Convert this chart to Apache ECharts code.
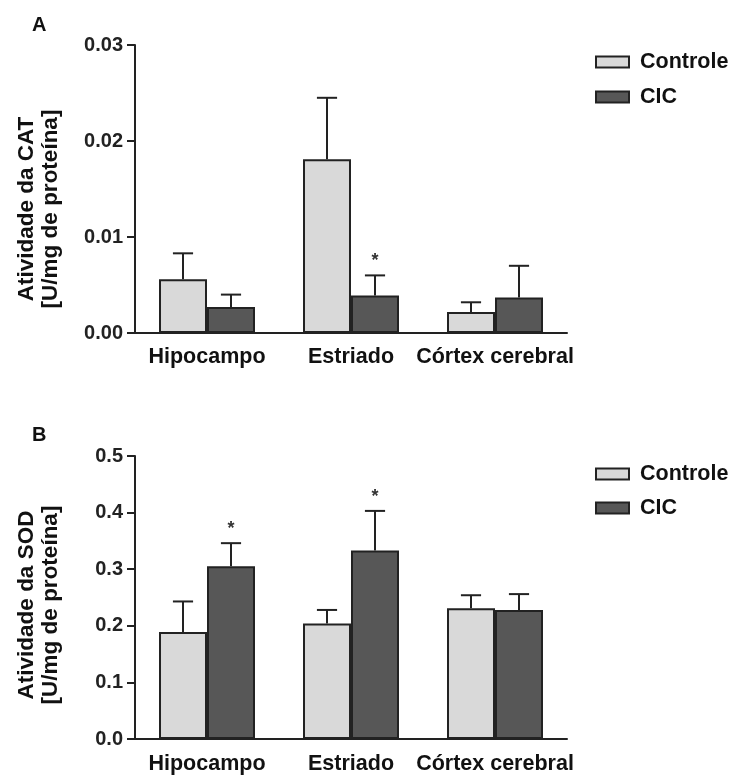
<!DOCTYPE html>
<html>
<head>
<meta charset="utf-8">
<script src="https://cdn.jsdelivr.net/npm/echarts@6/dist/echarts.min.js"></script>
<style>
html,body{margin:0;padding:0;background:#fff;}
#chart{width:731px;height:775px;}
</style>
</head>
<body>
<div id="chart"></div>
<script>
// ---- data ----
var categories = ['Hipocampo', 'Estriado', 'Córtex cerebral'];
var seriesNames = ['Controle', 'CIC'];

// Panel A: Atividade da CAT
var catControle = [0.0056, 0.0181, 0.0022];
var catControleErr = [0.0027, 0.0064, 0.0010];
var catCIC = [0.0027, 0.0039, 0.0037];
var catCICErr = [0.0013, 0.0021, 0.0033];
var catCICSig = [0, 1, 0];
var tickLabelsA = ['0.00', '0.01', '0.02', '0.03'];

// Panel B: Atividade da SOD
var sodControle = [0.189, 0.204, 0.231];
var sodControleErr = [0.054, 0.024, 0.023];
var sodCIC = [0.305, 0.333, 0.228];
var sodCICErr = [0.041, 0.070, 0.028];
var sodCICSig = [1, 1, 0];
var tickLabelsB = ['0.0', '0.1', '0.2', '0.3', '0.4', '0.5'];

// ---- styles ----
var FONT = 'Liberation Sans';
var INK = '#222222';
var COL_CTRL = '#d9d9d9';
var COL_CIC = '#575757';

function errData(means, errs, sig) {
  return means.map(function (m, i) { return [i, m, errs[i], sig ? sig[i] : 0]; });
}

function errSeries(name, gridIdx, sign, data) {
  return {
    type: 'custom',
    name: name,
    xAxisIndex: gridIdx,
    yAxisIndex: gridIdx,
    encode: { x: 0, y: 1 },
    data: data,
    z: 3,
    silent: true,
    renderItem: function (params, api) {
      var cat = api.value(0), mean = api.value(1), sem = api.value(2), sig = api.value(3);
      var band = api.size([1, 0])[0];
      var base = api.coord([cat, mean]);
      var top = api.coord([cat, mean + sem]);
      var x = base[0] + sign * band / 6;
      var half = band * 0.07;
      var children = [
        { type: 'line', shape: { x1: x, y1: base[1], x2: x, y2: top[1] }, style: { stroke: INK, lineWidth: 2 } },
        { type: 'line', shape: { x1: x - half, y1: top[1], x2: x + half, y2: top[1] }, style: { stroke: INK, lineWidth: 2 } }
      ];
      if (sig) {
        children.push({
          type: 'text',
          x: x, y: top[1] - 14,
          style: { text: '*', fill: '#333', font: 'bold 18px ' + FONT, textAlign: 'center', textVerticalAlign: 'middle' }
        });
      }
      return { type: 'group', children: children };
    }
  };
}

function barSeries(name, gridIdx, data, color) {
  return {
    type: 'bar',
    name: name,
    xAxisIndex: gridIdx,
    yAxisIndex: gridIdx,
    data: data,
    barGap: '0%',
    barCategoryGap: '33.34%',
    itemStyle: { color: color, borderColor: INK, borderWidth: 2 },
    silent: true,
    z: 2
  };
}

function yAxisDef(gridIdx, max, interval, labels) {
  return {
    type: 'value',
    gridIndex: gridIdx,
    min: 0, max: max, interval: interval,
    axisLine: { show: true, lineStyle: { color: INK, width: 2 } },
    axisTick: { show: true, length: 8, lineStyle: { color: INK, width: 2 } },
    splitLine: { show: false },
    axisLabel: {
      margin: 12,
      color: '#222',
      fontFamily: FONT, fontWeight: 'bold', fontSize: 20,
      formatter: function (v) { return labels[Math.round(v / interval)]; }
    }
  };
}

function xAxisDef(gridIdx, margin) {
  return {
    type: 'category',
    gridIndex: gridIdx,
    data: categories,
    axisLine: { show: true, lineStyle: { color: INK, width: 2 } },
    axisTick: { show: false },
    axisLabel: {
      margin: margin, interval: 0,
      color: '#111', fontFamily: FONT, fontWeight: 'bold', fontSize: 21.5
    }
  };
}

function legendDef(top, gap) {
  return {
    data: seriesNames,
    orient: 'vertical',
    left: 595,
    top: top,
    padding: 0,
    icon: 'rect',
    itemWidth: 33,
    itemHeight: 11,
    itemGap: gap,
    selectedMode: false,
    textStyle: { fontFamily: FONT, fontWeight: 'bold', fontSize: 21.5, color: '#111', lineHeight: 24, padding: [0, 0, 0, 6] }
  };
}

var chart = echarts.init(document.getElementById('chart'));
chart.setOption({
  backgroundColor: '#ffffff',
  animation: false,
  grid: [
    { left: 135, top: 45, width: 432, height: 288 },
    { left: 135, top: 456, width: 432, height: 289 }
  ],
  xAxis: [xAxisDef(0, 13), xAxisDef(1, 14)],
  yAxis: [
    yAxisDef(0, 0.03, 0.01, tickLabelsA),
    yAxisDef(1, 0.5, 0.1, tickLabelsB)
  ],
  legend: [legendDef(50, 11), legendDef(462, 10)],
  series: [
    barSeries(seriesNames[0], 0, catControle, COL_CTRL),
    barSeries(seriesNames[1], 0, catCIC, COL_CIC),
    errSeries(seriesNames[0], 0, -1, errData(catControle, catControleErr)),
    errSeries(seriesNames[1], 0, 1, errData(catCIC, catCICErr, catCICSig)),
    barSeries(seriesNames[0], 1, sodControle, COL_CTRL),
    barSeries(seriesNames[1], 1, sodCIC, COL_CIC),
    errSeries(seriesNames[0], 1, -1, errData(sodControle, sodControleErr)),
    errSeries(seriesNames[1], 1, 1, errData(sodCIC, sodCICErr, sodCICSig))
  ],
  graphic: [
    { type: 'text', left: 32, top: 15, style: { text: 'A', font: 'bold 20px ' + FONT, fill: '#111' } },
    { type: 'text', left: 32, top: 425, style: { text: 'B', font: 'bold 20px ' + FONT, fill: '#111' } },
    { type: 'text', x: 39, y: 209, rotation: Math.PI / 2,
      style: { text: 'Atividade da CAT\n[U/mg de proteína]', font: 'bold 22.5px ' + FONT, lineHeight: 24, fill: '#111', textAlign: 'center', textVerticalAlign: 'middle' } },
    { type: 'text', x: 39, y: 605, rotation: Math.PI / 2,
      style: { text: 'Atividade da SOD\n[U/mg de proteína]', font: 'bold 22.5px ' + FONT, lineHeight: 24, fill: '#111', textAlign: 'center', textVerticalAlign: 'middle' } }
  ]
});
</script>
</body>
</html>
